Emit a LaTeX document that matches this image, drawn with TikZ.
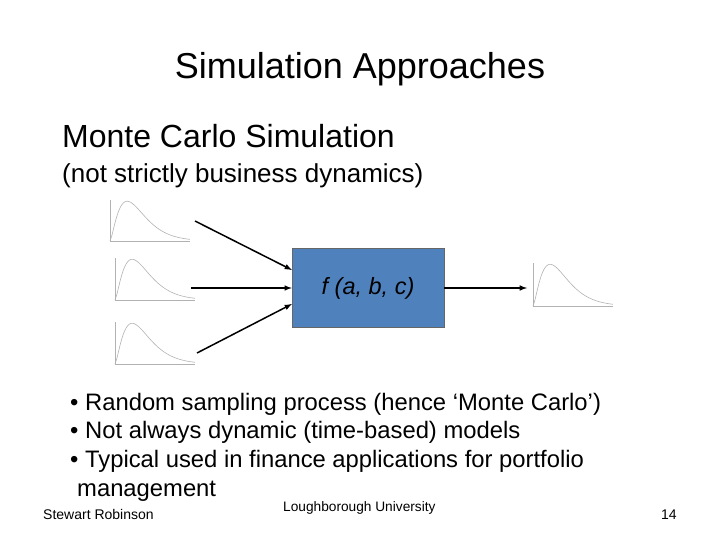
\documentclass[tikz,border=0pt]{standalone}
\usepackage{fontspec}
\setmainfont{Liberation Sans}
\begin{document}
\begin{tikzpicture}[x=1pt,y=-1pt,
  dist/.style={draw=black!30, line width=0.6pt},
  arr/.style={draw=black, line width=1.5pt, -latex},
  txt/.style={anchor=base west, inner sep=0pt}]
\useasboundingbox (0,0) rectangle (720,540);
\foreach \n/\x/\y/\w/\h in {d1/110/241/80/41, d2/115/300/80/42, d3/115/364/80/42, d4/533/306/80/43}{
  \draw[dist] (\x,\y-\h) -- (\x,\y) -- (\x+\w,\y);
  \draw[dist, smooth, domain=0:1, samples=50, variable=\t]
    plot ({\x+\w*\t}, {\y-\h*0.97*((\t*7)^1.5/(1.5^1.5))*exp(1.5-\t*7)});
  \coordinate (\n) at (\x,\y);
}
\node[draw=black!60, fill={rgb,255:red,79;green,129;blue,189}, minimum width=152pt, minimum height=79pt, inner sep=0pt] (f) at (368,288) {\fontsize{23.5}{26}\selectfont\itshape f (a, b, c)};
\coordinate (s1) at (195,221);
\coordinate (s2) at (191,288);
\coordinate (s3) at (197,353);
\coordinate (t1) at (292,270);
\coordinate (t3) at (292,304);
\coordinate (o) at (527,288);
\draw[arr] (s1) -- (t1);
\draw[arr] (s2) -- (f.west);
\draw[arr] (s3) -- (t3);
\draw[arr] (f.east) -- (o);
\node[anchor=base] (title) at (360,79) {\fontsize{36}{40}\selectfont Simulation Approaches};
\node[txt] (h1) at (62,148) {\fontsize{32}{36}\selectfont Monte Carlo Simulation};
\node[txt] (h2) at (62,183) {\fontsize{26}{30}\selectfont (not strictly business dynamics)};
\node[txt] (b1) at (70,410) {\fontsize{23.8}{26}\selectfont • Random sampling process (hence ‘Monte Carlo’)};
\node[txt] (b2) at (70,438) {\fontsize{23.8}{26}\selectfont • Not always dynamic (time-based) models};
\node[txt] (b3) at (70,467) {\fontsize{23.8}{26}\selectfont • Typical used in finance applications for portfolio};
\node[txt] (b4) at (77,496) {\fontsize{23.8}{26}\selectfont management};
\node[txt] (fl) at (43,519) {\fontsize{14}{16}\selectfont Stewart Robinson};
\node[txt] (fc) at (283,511) {\fontsize{13.7}{16}\selectfont Loughborough University};
\node[txt] (fr) at (661,519) {\fontsize{14}{16}\selectfont 14};
\end{tikzpicture}
\end{document}
